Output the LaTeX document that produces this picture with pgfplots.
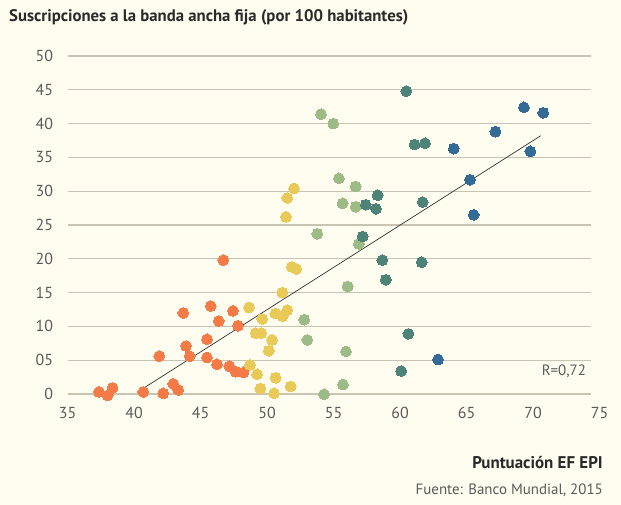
\documentclass[border=0pt]{standalone}
\usepackage{fontspec}
\setmainfont{PT Sans}
\usepackage{pgfplots}
\pgfplotsset{compat=1.18}
\definecolor{bg}{HTML}{FFFDF0}
\definecolor{gridc}{HTML}{C8C3B2}
\definecolor{corange}{HTML}{F47A48}
\definecolor{cyellow}{HTML}{E9C957}
\definecolor{cgreen}{HTML}{9DBB87}
\definecolor{cteal}{HTML}{4E8378}
\definecolor{cblue}{HTML}{336B96}
\definecolor{txt}{HTML}{5A5A5A}
\definecolor{ttl}{HTML}{2A2A2A}
\pgfplotsset{dots/.style={only marks, mark=*, mark size=5.4bp, color=#1, mark options={solid, fill=#1, draw=#1, line width=0pt}}}
\begin{document}
\begin{tikzpicture}[x=1bp,y=1bp]
\fill[bg] (0,0) rectangle (621,505);
\useasboundingbox (0,0) rectangle (621,505);
\node[anchor=west, text=ttl, font=\fontsize{16.8}{16.8}\selectfont\bfseries, inner sep=0] at (9,488) {Suscripciones a la banda ancha fija (por 100 habitantes)};
\node[anchor=east, text=ttl, font=\fontsize{17}{17}\selectfont\bfseries, inner sep=0] at (603,42) {Puntuación EF EPI};
\node[anchor=east, text=txt, font=\fontsize{15}{15}\selectfont, inner sep=0] at (603,15) {Fuente: Banco Mundial, 2015};
\begin{axis}[
  at={(67.5bp,111bp)}, anchor=south west,
  scale only axis, width=532bp, height=338bp,
  xmin=35, xmax=75, ymin=0, ymax=50,
  clip=false,
  axis line style={draw=none},
  major tick length=0pt,
  xtick={35,40,...,75},
  ytick={0,5,...,50},
  yticklabels={0,05,10,15,20,25,30,35,40,45,50},
  /pgf/number format/assume math mode=true,
  tick label style={text=txt, font=\fontsize{16}{16}\selectfont},
  yticklabel style={anchor=east, xshift=-11bp},
  xticklabel style={anchor=north, yshift=-10bp},
]
\foreach \yy in {0,5,10,15,20,25,30,35,40,45,50} {
  \edef\tmp{\noexpand\draw[gridc, line width=1.2bp] (axis cs:35,\yy) -- (axis cs:74.35,\yy);}
  \tmp
}
\addplot[dots=corange] coordinates {
(46.71,19.8)(43.71,12.0)(45.77,13.0)(47.44,12.3)(46.37,10.8)(47.82,10.1)
(45.49,8.1)(43.91,7.1)(44.19,5.6)(41.9,5.6)(45.49,5.4)(46.24,4.4)
(47.17,4.1)(47.64,3.3)(48.24,3.2)(37.37,0.3)(38.02,-0.2)(38.39,0.9)
(40.7,0.3)(42.2,0.1)(42.95,1.5)(43.33,0.6)
};
\addplot[dots=cyellow] coordinates {
(52.03,30.4)(51.53,29.0)(51.43,26.2)(51.86,18.8)(52.2,18.5)(51.15,15.0)
(48.65,12.8)(50.63,11.9)(51.53,12.4)(51.18,11.5)(49.65,11.1)(49.15,9.0)
(49.57,9.0)(50.38,8.0)(50.13,6.4)(48.72,4.3)(49.25,2.9)(50.65,2.4)
(51.78,1.1)(49.5,0.8)(50.53,0.1)
};
\addplot[dots=cgreen] coordinates {
(54.06,41.4)(54.98,40.0)(55.41,31.9)(56.67,30.7)(55.69,28.2)(56.67,27.7)
(53.78,23.7)(56.9,22.2)(56.07,15.9)(52.8,11.0)(53.03,8.0)(55.94,6.3)
(55.71,1.4)(54.29,-0.05)
};
\addplot[dots=cteal] coordinates {
(60.47,44.8)(61.1,36.9)(61.88,37.1)(61.7,28.4)(58.32,29.4)(57.42,28.0)
(58.2,27.4)(57.2,23.3)(58.67,19.8)(61.63,19.5)(58.93,16.9)(60.63,8.9)
(60.08,3.4)
};
\addplot[dots=cblue] coordinates {
(64.04,36.3)(67.17,38.8)(69.32,42.4)(70.77,41.6)(69.8,35.9)(65.26,31.7)
(65.54,26.5)(62.86,5.1)
};
\addplot[draw=black!80, line width=0.7bp] coordinates {(40.27,0.3)(70.58,38.2)};
\node[anchor=east, text=txt, font=\fontsize{15}{15}\selectfont, inner sep=0] at (axis cs:74.0,3.4) {R=0,72};
\end{axis}
\end{tikzpicture}
\end{document}
